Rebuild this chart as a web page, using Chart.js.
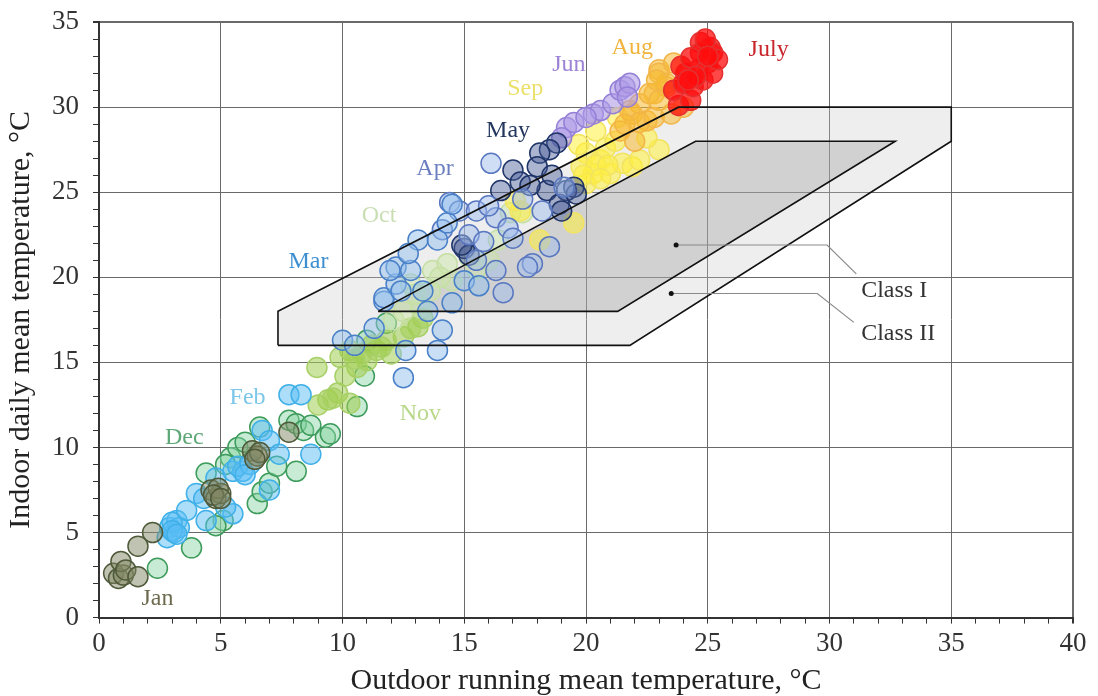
<!DOCTYPE html>
<html>
<head>
<meta charset="utf-8">
<script src="https://cdn.jsdelivr.net/npm/chart.js@4.4.1/dist/chart.umd.min.js"></script>
<style>
html,body{margin:0;padding:0;background:#fff}
#wrap{width:1098px;height:696px}
</style>
</head>
<body>
<div id="wrap"><canvas id="c" width="1098" height="696"></canvas></div>
<script>
// daily points per month: [outdoor running mean, indoor daily mean]
const jan = [[0.6,2.6],[0.8,2.3],[1.0,2.5],[0.9,3.3],[1.1,2.8],[1.6,2.4],[1.6,4.2],[2.2,5.0],[4.6,7.5],[4.8,7.0],[5.0,7.3],[4.9,7.6],[4.7,7.2],[5.0,7.0],[6.3,9.8],[6.5,9.5],[6.6,9.7],[6.4,9.3],[7.8,10.9]];
const feb = [[2.8,4.7],[2.9,5.3],[3.1,5.0],[3.2,5.7],[3.3,5.3],[3.0,5.6],[3.0,5.1],[3.2,4.9],[3.6,6.3],[4.0,7.3],[4.4,5.7],[5.5,6.1],[4.8,8.2],[5.5,8.6],[5.9,8.6],[5.7,8.9],[6.7,11.0],[7.0,10.4],[7.4,9.6],[8.7,9.6],[7.8,13.1],[8.3,13.1],[7.0,7.5],[4.3,7.0],[5.2,6.5],[6.2,9.0],[6.0,8.4]];
const mar = [[10.0,16.3],[11.7,18.6],[11.7,18.8],[12.2,19.6],[12.4,19.2],[12.2,20.6],[12.8,20.4],[11.95,20.4],[13.1,22.2],[13.9,22.2],[14.3,23.2],[14.5,24.3],[12.5,14.1],[12.6,15.7],[13.9,15.7],[14.1,16.9],[13.5,18.0],[14.5,18.5],[15.0,19.8],[15.6,19.5],[12.7,21.4],[13.3,19.2],[10.5,16.0],[11.3,17.0]];
const apr = [[16.1,26.7],[14.4,24.4],[14.8,23.9],[15.5,23.9],[16.3,23.5],[16.8,22.9],[14.1,22.8],[17.8,20.8],[18.5,21.8],[17.6,20.6],[16.3,20.4],[16.6,19.1],[15.2,22.5],[15.8,22.1],[16.0,24.2],[17.0,22.3],[19.1,25.3],[18.2,23.9],[17.4,24.6],[15.5,21.0]];
const may = [[15.0,21.7],[15.2,21.3],[14.9,21.9],[18.8,27.9],[18.5,27.5],[18.1,27.3],[18.0,26.5],[18.4,25.1],[19.2,25.1],[19.5,25.3],[18.9,24.3],[19.6,24.9],[16.5,25.1],[17.0,26.3],[17.3,25.6],[18.6,26.0],[19.0,23.9],[17.7,25.4]];
const jun = [[19.2,28.8],[19.5,29.1],[20.3,29.6],[20.6,29.8],[21.1,30.2],[21.4,31.0],[21.6,31.2],[21.8,31.4],[21.7,30.6],[20.0,29.4],[19.0,28.2]];
const jul = [[23.8,30.1],[24.3,30.4],[23.6,31.0],[24.7,33.8],[25.1,33.5],[25.2,33.2],[25.0,32.6],[24.6,32.2],[24.1,32.0],[24.0,31.4],[24.4,31.2],[24.8,31.6],[25.2,32.0],[25.4,32.8],[23.9,32.4],[24.7,33.2],[24.3,32.9],[24.9,34.0],[24.5,31.8],[25.0,33.0],[24.2,31.6]];
const aug = [[23.0,32.2],[23.3,31.2],[22.8,30.8],[22.2,30.2],[21.9,29.6],[22.5,29.2],[23.0,32.0],[22.6,30.8],[21.8,29.8],[22.2,29.1],[21.4,28.6],[22.8,29.4],[23.0,30.4],[23.3,31.4],[23.6,32.6],[22.0,28.0],[23.5,29.6],[24.0,30.0],[22.9,31.6],[21.6,29.0]];
const sep = [[20.0,27.3],[20.6,26.9],[21.0,26.1],[20.3,26.1],[19.8,26.5],[21.5,26.7],[21.9,26.5],[19.5,23.2],[18.1,22.2],[17.3,23.9],[20.4,28.6],[21.3,29.4],[22.2,26.9],[23.0,27.5],[20.8,27.6],[19.7,27.8],[21.2,28.0],[22.5,28.2],[17.1,24.5],[20.0,25.5],[20.4,26.6],[20.9,26.6],[19.9,26.0],[20.6,25.8]];
const oct = [[12.8,19.6],[13.7,20.4],[14.3,20.8],[14.5,19.8],[13.2,18.2],[12.1,17.5],[17.4,23.8],[16.9,23.8],[15.5,20.5],[16.0,21.0],[13.0,19.0],[14.0,20.0],[12.5,18.0],[15.2,21.2],[16.4,22.2],[13.6,19.2]];
const nov = [[8.95,14.7],[9.4,12.8],[9.8,13.2],[10.3,12.6],[10.6,14.7],[11.0,15.1],[11.4,15.7],[12.0,15.5],[10.3,15.7],[9.9,15.3],[12.5,16.5],[13.1,17.1],[13.3,17.6],[9.0,12.5],[9.6,12.9],[10.8,15.5],[11.2,16.0],[11.8,16.3],[10.1,14.2],[12.8,17.0],[10.5,15.2],[11.6,15.9]];
const dec = [[2.4,2.9],[3.8,4.1],[4.4,8.5],[5.1,5.7],[5.4,9.4],[5.7,10.0],[6.5,6.7],[6.7,7.4],[7.0,7.9],[7.3,8.9],[8.1,8.6],[6.6,11.2],[7.8,11.6],[8.1,11.4],[8.4,11.0],[8.7,11.3],[9.3,10.6],[5.2,9.0],[4.8,5.4],[6.0,10.3],[10.6,12.4],[11.8,17.3],[11.0,16.3],[10.9,14.2],[9.5,10.8]];

const monthNames = ['Jan','Feb','Mar','Apr','May','Jun','July','Aug','Sep','Oct','Nov','Dec'];
const monthData = [jan,feb,mar,apr,may,jun,jul,aug,sep,oct,nov,dec];
const monthFill = ['rgba(130,135,100,0.5)','rgba(90,190,245,0.5)','rgba(145,192,238,0.5)','rgba(160,188,235,0.5)','rgba(70,90,150,0.45)','rgba(175,155,230,0.6)','rgba(255,12,12,0.75)','rgba(245,185,50,0.55)','rgba(255,238,60,0.55)','rgba(205,230,170,0.5)','rgba(160,205,80,0.55)','rgba(130,210,160,0.45)'];
const monthLine = ['#4f5a3a','#40b0e8','#4a80c8','#5a78c0','#1f3468','#9580d8','#e53030','#f2b548','#f2e460','#c5dfa5','#a8d068','#3d9c5c'];
const labelColor = ['#6d6a4e','#7cc6ea','#3d8fd0','#6b7fc0','#23375e','#9c83d6','#c8262c','#f0b43c','#ece06a','#c9deb3','#b9d88a','#5ea878'];
const labelX = [2.4,6.1,8.6,13.8,16.8,19.3,27.5,21.9,17.5,11.5,13.2,3.5];
const labelY = [1.1,12.9,20.9,26.4,28.6,32.5,33.4,33.5,31.1,23.6,12.0,10.6];

// comfort zones
const class2X = [7.35,21.8,35,35,23.8,7.35,7.35];
const class2Y = [16,16,28,30,30,18,16];
const class1X = [11.46,21.3,32.7,24.5,11.46];
const class1Y = [18,18,28,28,18];
const classNames = ['Class I','Class II'];
const leaderX = [[23.7,29.9,31.1],[23.5,29.5,31.0]];
const leaderY = [[21.9,21.9,20.2],[19.05,19.05,17.35]];
const classTextX = [31.3,31.3];
const classTextY = [19.2,16.7];

const toPts = (xs, ys) => xs.map((v, i) => ({x: v, y: ys[i]}));
const serif = '"Liberation Serif", "Times New Roman", serif';

const datasets = [];
// outlines on top
datasets.push({type:'line', data: toPts(class2X, class2Y), borderColor:'#111', borderWidth:1.6, pointRadius:0, fill:false, tension:0, order:0});
datasets.push({type:'line', data: toPts(class1X, class1Y), borderColor:'#111', borderWidth:1.6, pointRadius:0, fill:false, tension:0, order:0});
monthData.forEach((d, i) => {
  datasets.push({
    type:'scatter',
    data: d.map(p => ({x:p[0], y:p[1]})),
    backgroundColor: monthFill[i],
    borderColor: monthLine[i],
    borderWidth: 1.5,
    pointRadius: 10,
    order: 5
  });
});
// fills under the points
datasets.push({type:'line', data: toPts(class1X, class1Y), borderWidth:0, pointRadius:0, backgroundColor:'rgba(150,150,150,0.32)', fill:'shape', tension:0, order:9});
datasets.push({type:'line', data: toPts(class2X, class2Y), borderWidth:0, pointRadius:0, backgroundColor:'rgba(200,200,200,0.3)', fill:'shape', tension:0, order:10});

const annot = {
  id: 'annot',
  afterDatasetsDraw(chart) {
    const {ctx, scales: {x, y}} = chart;
    ctx.save();
    ctx.font = '24px ' + serif;
    ctx.textAlign = 'center';
    ctx.textBaseline = 'middle';
    monthNames.forEach((m, i) => {
      ctx.fillStyle = labelColor[i];
      ctx.fillText(m, x.getPixelForValue(labelX[i]), y.getPixelForValue(labelY[i]));
    });
    classNames.forEach((c, i) => {
      ctx.strokeStyle = '#8a8a8a';
      ctx.lineWidth = 1.2;
      ctx.beginPath();
      leaderX[i].forEach((v, j) => {
        const px = x.getPixelForValue(v), py = y.getPixelForValue(leaderY[i][j]);
        if (j === 0) ctx.moveTo(px, py); else ctx.lineTo(px, py);
      });
      ctx.stroke();
      ctx.fillStyle = '#111';
      ctx.beginPath();
      ctx.arc(x.getPixelForValue(leaderX[i][0]), y.getPixelForValue(leaderY[i][0]), 2.5, 0, Math.PI * 2);
      ctx.fill();
      ctx.fillStyle = '#333';
      ctx.textAlign = 'left';
      ctx.fillText(c, x.getPixelForValue(classTextX[i]), y.getPixelForValue(classTextY[i]));
    });
    ctx.restore();
  }
};

const gridColor = ctx => ctx.tick.value % 5 === 0 ? '#6a6a6a' : 'rgba(0,0,0,0)';

new Chart(document.getElementById('c'), {
  type: 'scatter',
  data: {datasets},
  options: {
    responsive: false,
    animation: false,
    layout: {padding: {left: 6, right: 25, top: 21, bottom: 0}},
    plugins: {legend: {display: false}, tooltip: {enabled: false}},
    scales: {
      x: {
        type: 'linear', min: 0, max: 40,
        ticks: {stepSize: 1, autoSkip: false, maxRotation: 0, padding: 4, color: '#333',
          font: {family: serif, size: 27},
          callback: v => v % 5 === 0 ? v : ''},
        grid: {color: gridColor, lineWidth: c => c.tick.value === 40 ? 2 : 1, tickColor: '#333', tickLength: 6},
        border: {color: '#333', width: 2},
        title: {display: true, text: 'Outdoor running mean temperature, °C', color: '#222',
          font: {family: serif, size: 30, lineHeight: 1.0}, padding: {top: 2, bottom: 0}}
      },
      y: {
        type: 'linear', min: 0, max: 35,
        ticks: {stepSize: 1, autoSkip: false, padding: 14, color: '#333',
          font: {family: serif, size: 27, lineHeight: 0.6},
          callback: v => v % 5 === 0 ? v : ''},
        grid: {color: gridColor, lineWidth: c => c.tick.value === 35 ? 2 : 1, tickColor: '#333', tickLength: 6},
        border: {color: '#333', width: 2},
        title: {display: true, text: 'Indoor daily mean temperature, °C', color: '#222',
          font: {family: serif, size: 30, lineHeight: 1.0}, padding: {top: 0, bottom: 2}}
      }
    }
  },
  plugins: [annot]
});
</script>
</body>
</html>
